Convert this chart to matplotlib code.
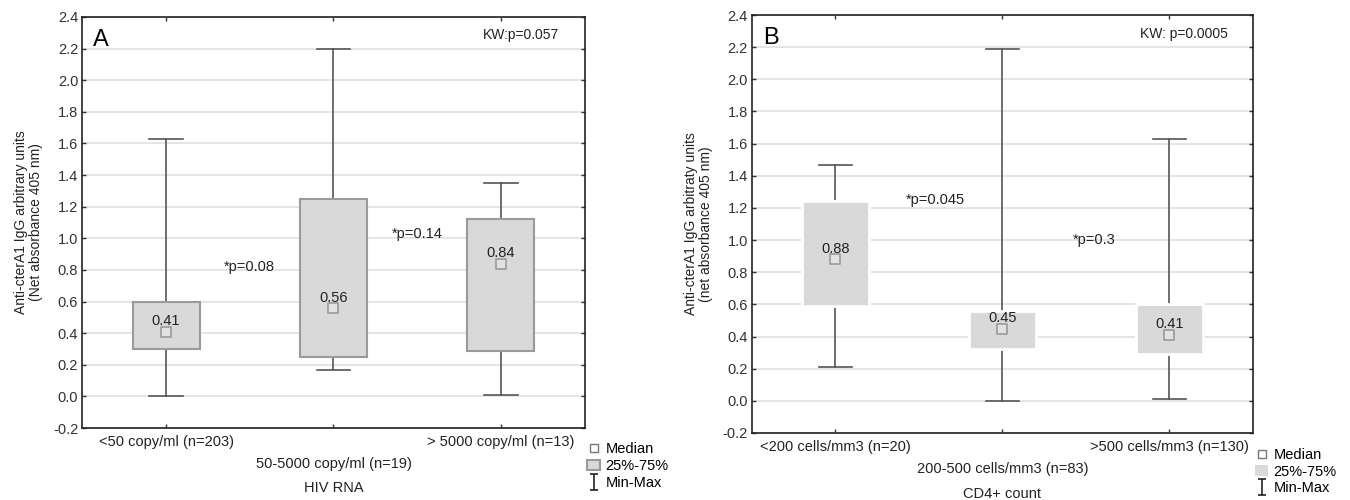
import matplotlib
matplotlib.use("Agg")
import matplotlib.pyplot as plt
from matplotlib.lines import Line2D
from matplotlib.patches import Patch
from matplotlib.path import Path

plt.rcParams['font.family'] = ['Liberation Sans', 'DejaVu Sans']

# panel A: HIV RNA
hiv_labels = ['<50 copy/ml (n=203)', '50-5000 copy/ml (n=19)', '> 5000 copy/ml (n=13)']
hiv_min = [0.0, 0.17, 0.01]
hiv_q1 = [0.30, 0.25, 0.29]
hiv_med = [0.41, 0.56, 0.84]
hiv_q3 = [0.60, 1.25, 1.12]
hiv_max = [1.63, 2.20, 1.35]
hiv_p = ['*p=0.08', '*p=0.14']
hiv_p_xy = [(0.5, 0.82), (1.5, 1.03)]

# panel B: CD4+ count
cd4_labels = ['<200 cells/mm3 (n=20)', '200-500 cells/mm3 (n=83)', '>500 cells/mm3 (n=130)']
cd4_min = [0.21, 0.0, 0.01]
cd4_q1 = [0.59, 0.32, 0.29]
cd4_med = [0.88, 0.45, 0.41]
cd4_q3 = [1.24, 0.56, 0.60]
cd4_max = [1.47, 2.19, 1.63]
cd4_p = ['*p=0.045', '*p=0.3']
cd4_p_xy = [(0.6, 1.25), (1.55, 1.0)]

yticks = [-0.2, 0.0, 0.2, 0.4, 0.6, 0.8, 1.0, 1.2, 1.4, 1.6, 1.8, 2.0, 2.2, 2.4]

FILL = '#d9d9d9'
EDGE = '#9a9a9a'
WHISK = '#555555'
TXT = '#222222'

# I-shaped marker for the Min-Max legend entry
minmax_marker = Path([(-0.5, -1), (0.5, -1), (0, -1), (0, 1), (-0.5, 1), (0.5, 1)],
                     [Path.MOVETO, Path.LINETO, Path.MOVETO, Path.LINETO, Path.MOVETO, Path.LINETO])


def panel(ax, labels, lo, q1, med, q3, hi, box_edge, box_lw, letter, kw, ptexts, pxy, ylabel, xlabel):
    stats = []
    for i in range(len(labels)):
        stats.append(dict(med=med[i], q1=q1[i], q3=q3[i], whislo=lo[i], whishi=hi[i], fliers=[]))
    ax.bxp(stats, positions=range(len(labels)), widths=0.4, capwidths=0.2,
           patch_artist=True, showfliers=False,
           boxprops=dict(facecolor=FILL, edgecolor=box_edge, linewidth=box_lw, zorder=3),
           whiskerprops=dict(color=WHISK, linewidth=1.2, zorder=2),
           capprops=dict(color=WHISK, linewidth=1.2, zorder=2),
           medianprops=dict(linestyle='none'))
    ax.scatter(range(len(labels)), med, marker='s', s=50, facecolor='#e2e2e2',
               edgecolor=EDGE, linewidth=1.2, zorder=4)
    for i, m in enumerate(med):
        ax.text(i, m + 0.065, f'{m:.2f}', ha='center', va='center', fontsize=10.5, color=TXT, zorder=5)
    for t, (x, y) in zip(ptexts, pxy):
        ax.text(x, y, t, ha='center', va='center', fontsize=10.5, color=TXT)
    ax.text(0.022, 0.945, letter, transform=ax.transAxes, fontsize=17, ha='left', va='center', color='black')
    ax.text(0.95, 0.955, kw, transform=ax.transAxes, fontsize=10, ha='right', va='center', color=TXT)

    ax.set_xlim(-0.5, 2.5)
    ax.set_ylim(-0.2, 2.4)
    ax.set_yticks(yticks)
    ax.set_yticklabels([f'{v:.1f}' for v in yticks], fontsize=10.5, color=TXT)
    ax.set_xticks(range(len(labels)))
    ax.set_xticklabels([''] * len(labels))
    ax.yaxis.grid(True, color='#e3e3e3', linewidth=1.3)
    ax.set_axisbelow(True)
    ax.tick_params(direction='in', length=3, width=1, top=True, right=True, pad=3, colors='#333333')
    for s in ax.spines.values():
        s.set_linewidth(1.2)
        s.set_color('#222222')

    # staggered category labels
    for i, lab in enumerate(labels):
        yy = -0.033 if i != 1 else -0.087
        ax.text(i, yy, lab, transform=ax.get_xaxis_transform(), ha='center', va='center',
                fontsize=10.5, color=TXT)
    ax.text(0.5, -0.145, xlabel, transform=ax.transAxes, ha='center', va='center', fontsize=10.5, color=TXT)
    ax.set_ylabel(ylabel, fontsize=10, color=TXT, labelpad=7, linespacing=1.1)

    handles = [
        Line2D([], [], marker='s', linestyle='none', markersize=6, markerfacecolor='white',
               markeredgecolor='#777777', markeredgewidth=1),
        Patch(facecolor=FILL, edgecolor=box_edge if box_edge != 'white' else 'none', linewidth=box_lw),
        Line2D([], [], marker=minmax_marker, linestyle='none', markersize=12,
               markeredgecolor='#222222', markeredgewidth=1.2),
    ]
    ax.legend(handles, ['Median', '25%-75%', 'Min-Max'], loc='upper left',
              bbox_to_anchor=(1.005, -0.035), frameon=False, fontsize=10.5,
              handlelength=0.9, handletextpad=0.35, labelspacing=0.2, borderpad=0,
              borderaxespad=0)


fig = plt.figure(figsize=(13.5, 5), dpi=100)
axA = fig.add_axes([0.061, 0.144, 0.372, 0.822])
axB = fig.add_axes([0.557, 0.134, 0.371, 0.836])

panel(axA, hiv_labels, hiv_min, hiv_q1, hiv_med, hiv_q3, hiv_max, EDGE, 1.5, 'A', 'KW:p=0.057',
      hiv_p, hiv_p_xy, 'Anti-cterA1 IgG arbitrary units\n(Net absorbance 405 nm)', 'HIV RNA')
panel(axB, cd4_labels, cd4_min, cd4_q1, cd4_med, cd4_q3, cd4_max, 'white', 2.0, 'B', 'KW: p=0.0005',
      cd4_p, cd4_p_xy, 'Anti-cterA1 IgG arbitraty units\n(net absorbance 405 nm)', 'CD4+ count')

fig.savefig('out.png', dpi=100)
